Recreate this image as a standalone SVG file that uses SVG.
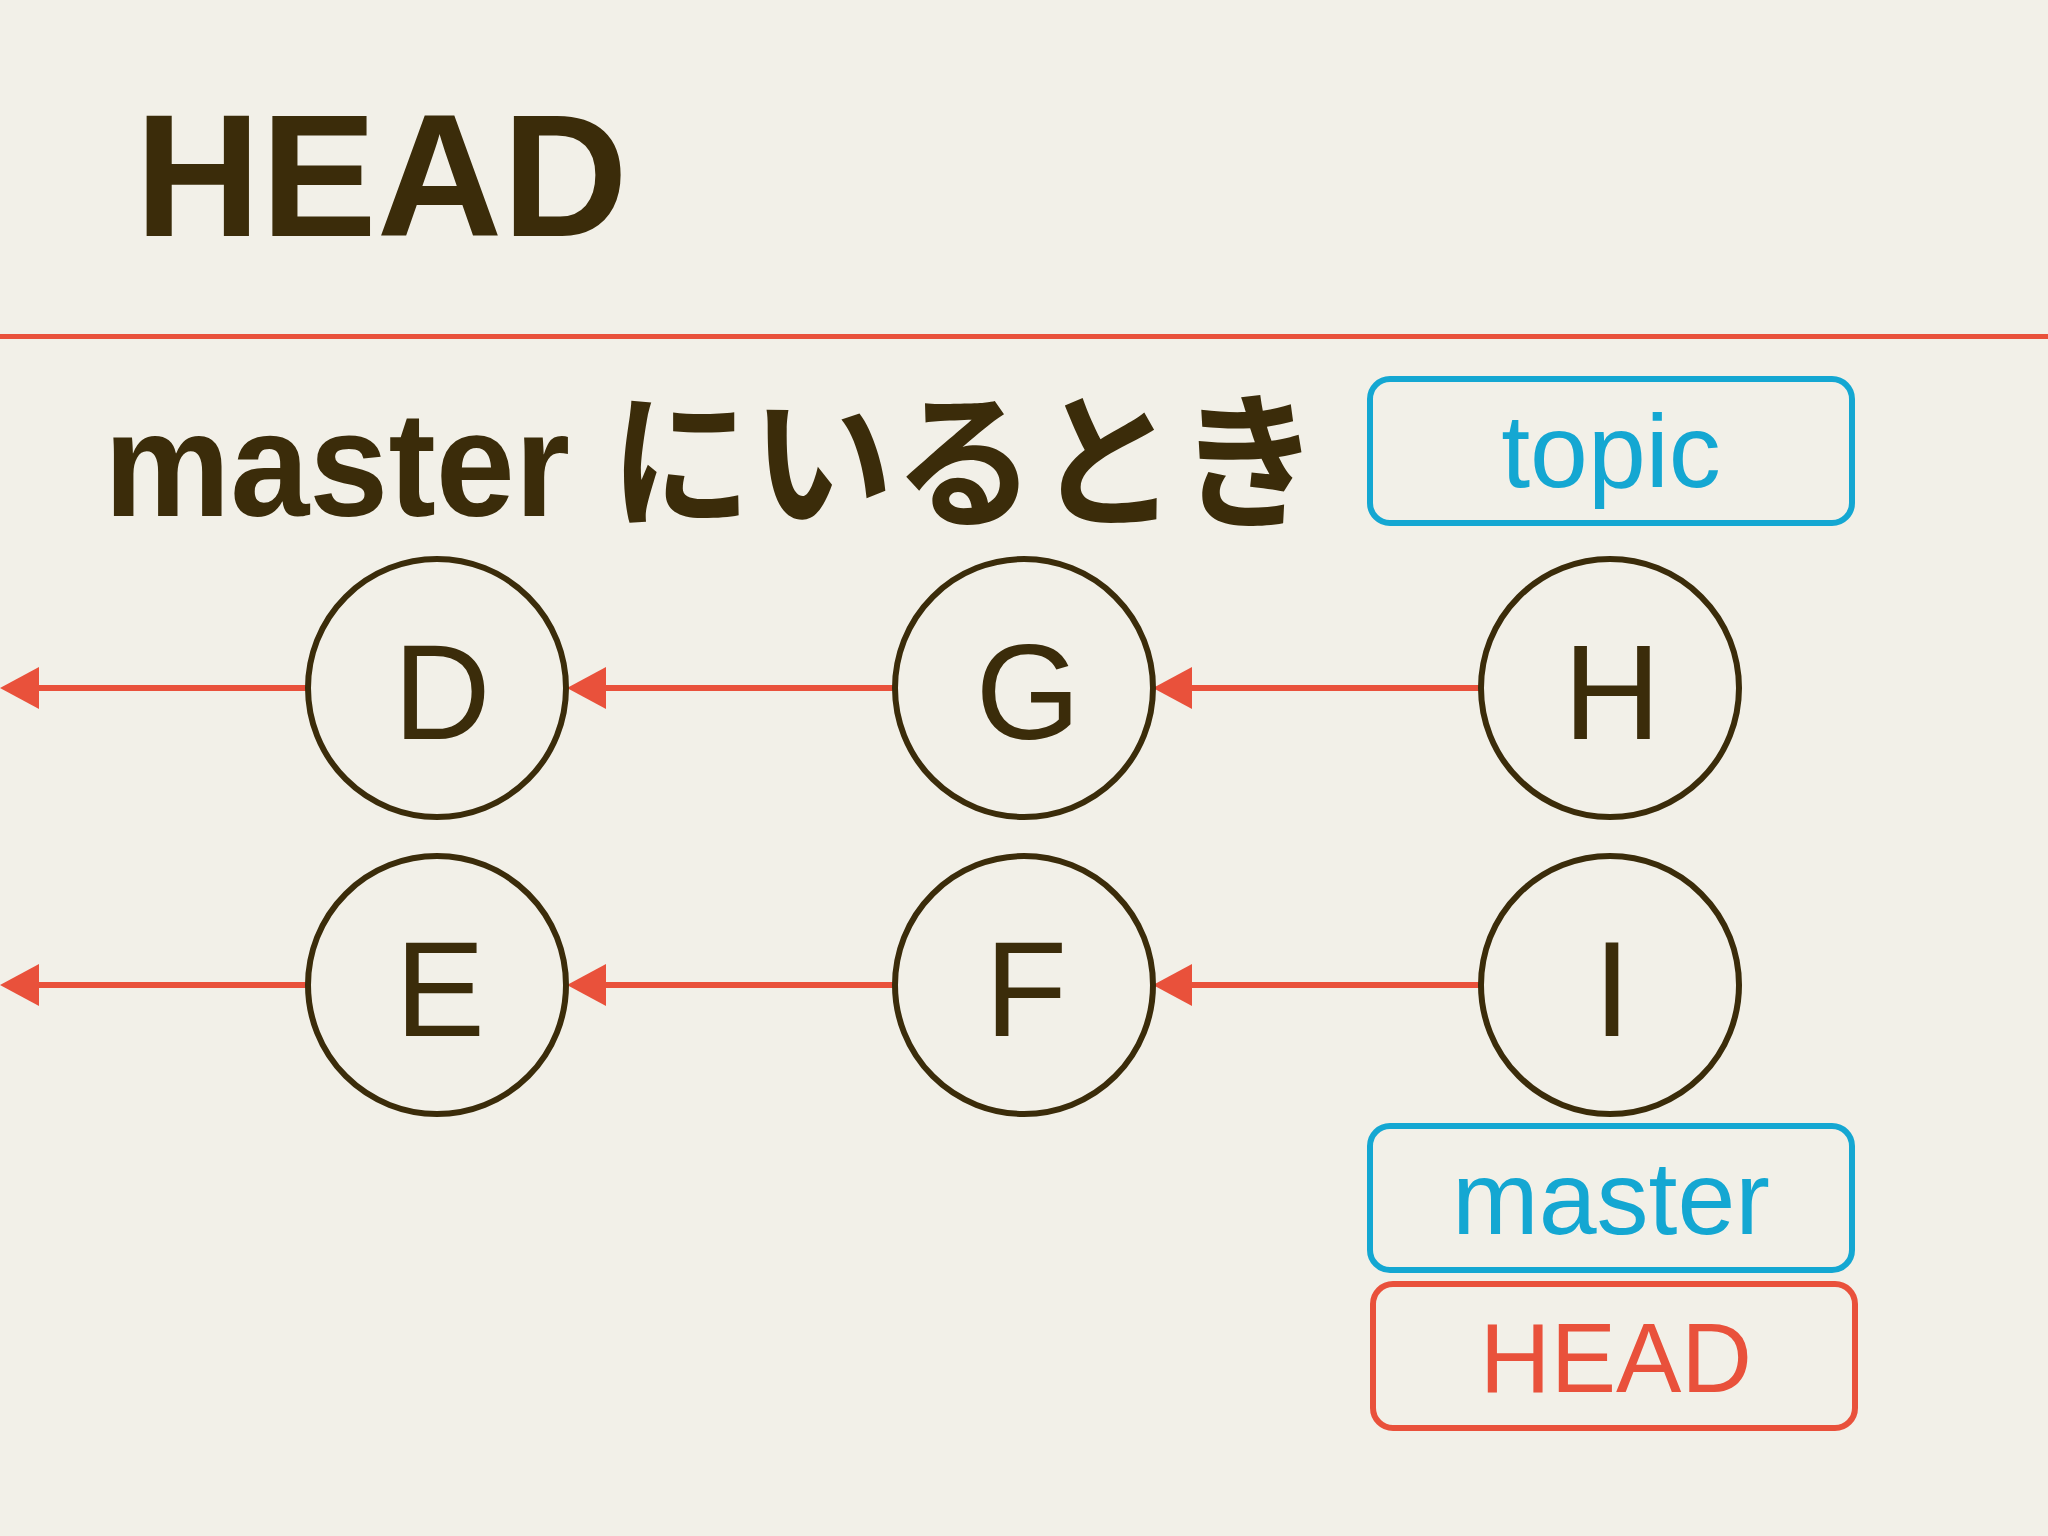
<svg xmlns="http://www.w3.org/2000/svg" width="2048" height="1536" viewBox="0 0 2048 1536">
<defs>
<style>
.n{fill:none;stroke:#3b2c0a;stroke-width:6}
.l{font-family:"Liberation Sans",Arial,sans-serif;font-size:135px;fill:#3b2c0a;text-anchor:middle}
.c{stroke:#e9513b;stroke-width:6;fill:none}
.a{fill:#e9513b}
.b{fill:none;stroke:#14a7d2;stroke-width:6}
.bt{font-family:"Liberation Sans",Arial,sans-serif;font-size:104px;fill:#14a7d2;text-anchor:middle}
</style>
</defs>
<rect width="2048" height="1536" fill="#f2f0e8"/>
<text x="135" y="236" font-family="Liberation Sans,Arial,sans-serif" font-weight="bold" font-size="174" fill="#3b2c0a">HEAD</text>
<rect x="0" y="334" width="2048" height="5" fill="#e9513b"/>
<text x="104" y="516" font-family="'Liberation Sans','Noto Sans CJK JP',sans-serif" font-weight="bold" font-size="148" fill="#3b2c0a" textLength="1216" lengthAdjust="spacingAndGlyphs">master にいるとき</text>
<g id="connectors">
<line class="c" x1="30" y1="688" x2="308" y2="688"/><polygon class="a" points="0,688 39,667 39,709"/>
<line class="c" x1="597" y1="688" x2="895" y2="688"/><polygon class="a" points="567,688 606,667 606,709"/>
<line class="c" x1="1183" y1="688" x2="1481" y2="688"/><polygon class="a" points="1153,688 1192,667 1192,709"/>
<line class="c" x1="30" y1="985" x2="308" y2="985"/><polygon class="a" points="0,985 39,964 39,1006"/>
<line class="c" x1="597" y1="985" x2="895" y2="985"/><polygon class="a" points="567,985 606,964 606,1006"/>
<line class="c" x1="1183" y1="985" x2="1481" y2="985"/><polygon class="a" points="1153,985 1192,964 1192,1006"/>
</g>
<g id="D"><circle class="n" cx="437" cy="688" r="129"/><text class="l" x="442" y="739">D</text></g>
<g id="G"><circle class="n" cx="1024" cy="688" r="129"/><text class="l" x="1028" y="739">G</text></g>
<g id="H"><circle class="n" cx="1610" cy="688" r="129"/><text class="l" x="1612" y="739">H</text></g>
<g id="E"><circle class="n" cx="437" cy="985" r="129"/><text class="l" x="440" y="1036">E</text></g>
<g id="F"><circle class="n" cx="1024" cy="985" r="129"/><text class="l" x="1026" y="1036">F</text></g>
<g id="I"><circle class="n" cx="1610" cy="985" r="129"/><text class="l" x="1612" y="1036">I</text></g>
<g id="topic"><rect class="b" x="1370" y="379" width="482" height="144" rx="20"/><text class="bt" x="1611" y="487">topic</text></g>
<g id="master"><rect class="b" x="1370" y="1126" width="482" height="144" rx="20"/><text class="bt" x="1611" y="1234">master</text></g>
<g id="HEADlabel"><rect x="1373" y="1284" width="482" height="144" rx="20" fill="none" stroke="#e9513b" stroke-width="6"/><text x="1616" y="1392" font-family="Liberation Sans,Arial,sans-serif" font-size="98" fill="#e9513b" text-anchor="middle">HEAD</text></g>
</svg>
